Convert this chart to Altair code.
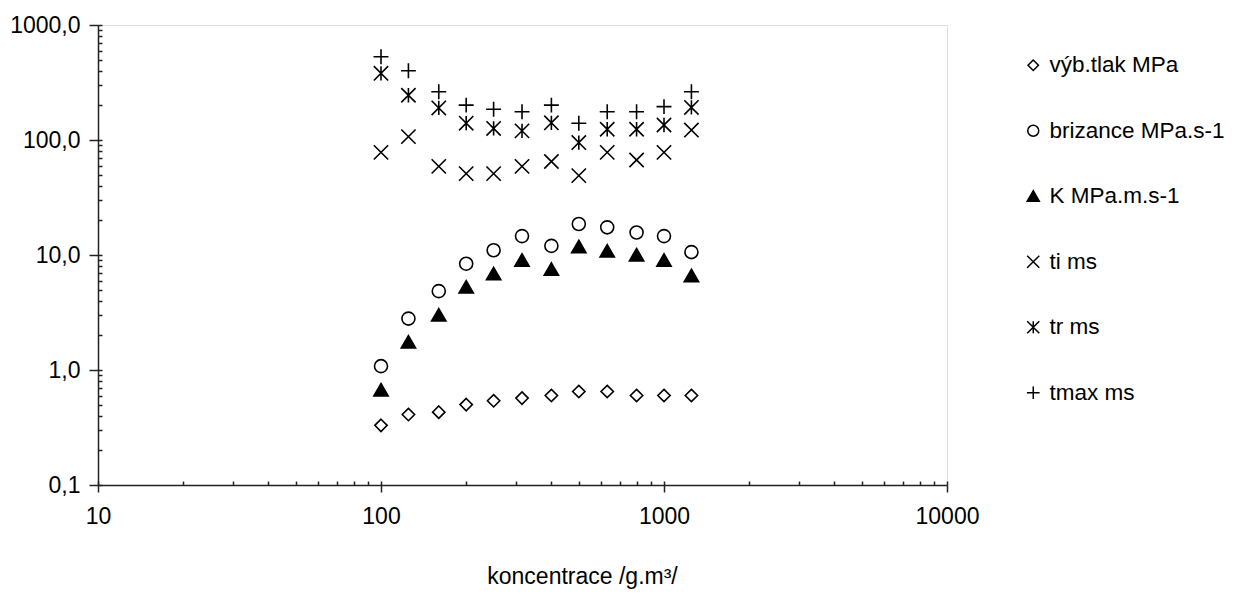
import altair as alt
import pandas as pd

# ---- data ----
konc = [100, 125, 160, 200, 250, 315, 400, 500, 630, 800, 1000, 1250]
serie_names = ["výb.tlak MPa", "brizance MPa.s-1", "K MPa.m.s-1", "ti ms", "tr ms", "tmax ms"]
vyb_tlak = [0.33, 0.41, 0.43, 0.50, 0.54, 0.57, 0.60, 0.65, 0.65, 0.60, 0.60, 0.60]
brizance = [1.08, 2.8, 4.85, 8.4, 11.0, 14.6, 12.0, 18.6, 17.4, 15.7, 14.6, 10.6]
k_val = [0.67, 1.75, 3.0, 5.25, 6.85, 9.0, 7.5, 11.8, 10.8, 10.0, 9.0, 6.6]
ti = [78, 107, 59, 51, 51, 59, 65, 49, 78, 67, 78, 122]
tr = [380, 245, 190, 140, 126, 120, 141, 95, 124, 124, 135, 192]
tmax = [530, 400, 263, 201, 185, 176, 201, 140, 176, 176, 195, 263]

x_major = [10, 100, 1000, 10000]
x_all = [d * k for d in [10, 100, 1000] for k in range(1, 10)] + [10000]
y_major = [0.1, 1, 10, 100, 1000]
y_all = [d * k for d in [0.1, 1, 10, 100] for k in range(1, 10)] + [1000]

rows = []
for name, vals in zip(serie_names, [vyb_tlak, brizance, k_val, ti, tr, tmax]):
    for c, v in zip(konc, vals):
        rows.append({"konc": c, "hodnota": v, "serie": name})
df = pd.DataFrame(rows)

shapes = [
    "M0,-0.95L0.95,0L0,0.95L-0.95,0Z",
    "circle",
    "M0,-1L1.1,0.9L-1.1,0.9Z",
    "M-1.1,-1.1L1.1,1.1M-1.1,1.1L1.1,-1.1",
    "M-1.1,-1.1L1.1,1.1M-1.1,1.1L1.1,-1.1M0,-1.1L0,1.1",
    "M-1.15,0L1.15,0M0,-1.15L0,1.15",
]
fills = ["white", "white", "black", "transparent", "transparent", "transparent"]

xscale = alt.Scale(type="log", domain=[10, 10000], nice=False)
yscale = alt.Scale(type="log", domain=[0.1, 1000], nice=False)

axis_col = "#222222"

leg = alt.Legend(
    title=None, orient="none", legendX=924, legendY=29, direction="vertical",
    symbolSize=121, symbolStrokeWidth=1.5,
    labelFontSize=22.5, labelOffset=5, rowPadding=42.5, labelColor="black",
    labelLimit=400, padding=0, labelFont="Liberation Sans",
)

base = alt.Chart(df)

points = base.mark_point(
    filled=True, size=169, stroke="black", strokeWidth=1.6, opacity=1
).encode(
    x=alt.X(
        "konc:Q", scale=xscale,
        axis=alt.Axis(
            orient="bottom", values=x_major, format="d", tickSize=7, tickWidth=1.5,
            tickColor=axis_col, domainColor=axis_col, domainWidth=1.5,
            labelFontSize=23, labelPadding=13, labelColor="black", labelFlush=False,
            labelOverlap=False, grid=False,
            title="koncentrace /g.m³/", titleFontSize=23, titleFontWeight="normal",
            titleColor="black", titleX=484, titleY=98, titleBaseline="alphabetic",
            titleAnchor="middle", titleAlign="center",
        ),
    ),
    y=alt.Y(
        "hodnota:Q", scale=yscale,
        axis=alt.Axis(
            orient="left", values=y_major,
            labelExpr="replace(format(datum.value, '.1f'), '.', ',')",
            tickSize=9, tickWidth=1.5, tickColor=axis_col, domainColor=axis_col,
            domainWidth=1.5, labelFontSize=23, labelPadding=9, labelColor="black",
            labelFlush=False, labelOverlap=False, grid=False, title=None,
        ),
    ),
    shape=alt.Shape("serie:N", scale=alt.Scale(domain=serie_names, range=shapes), legend=leg),
    fill=alt.Fill("serie:N", scale=alt.Scale(domain=serie_names, range=fills), legend=leg),
)

minor = base.mark_point(opacity=0).encode(
    x=alt.X(
        "konc:Q", scale=xscale,
        axis=alt.Axis(
            orient="bottom", values=x_all, tickSize=4, offset=-4, labels=False,
            domain=False, grid=False, title=None, tickWidth=1.5, tickColor=axis_col,
        ),
    ),
    y=alt.Y(
        "hodnota:Q", scale=yscale,
        axis=alt.Axis(
            orient="left", values=y_all, tickSize=4, offset=-4, labels=False,
            domain=False, grid=False, title=None, tickWidth=1.5, tickColor=axis_col,
        ),
    ),
)

chart = (
    alt.layer(minor, points)
    .resolve_axis(x="independent", y="independent")
    .properties(
        width=849, height=460,
        padding={"left": 90, "top": 17, "right": 277, "bottom": 104},
        autosize=alt.AutoSizeParams(type="none"),
        background="white",
    )
    .configure_view(stroke="#8a8a8a", strokeWidth=1.5)
    .configure(font="Liberation Sans")
)

chart.save("out.html", embed_options={"renderer": "svg", "actions": False})
